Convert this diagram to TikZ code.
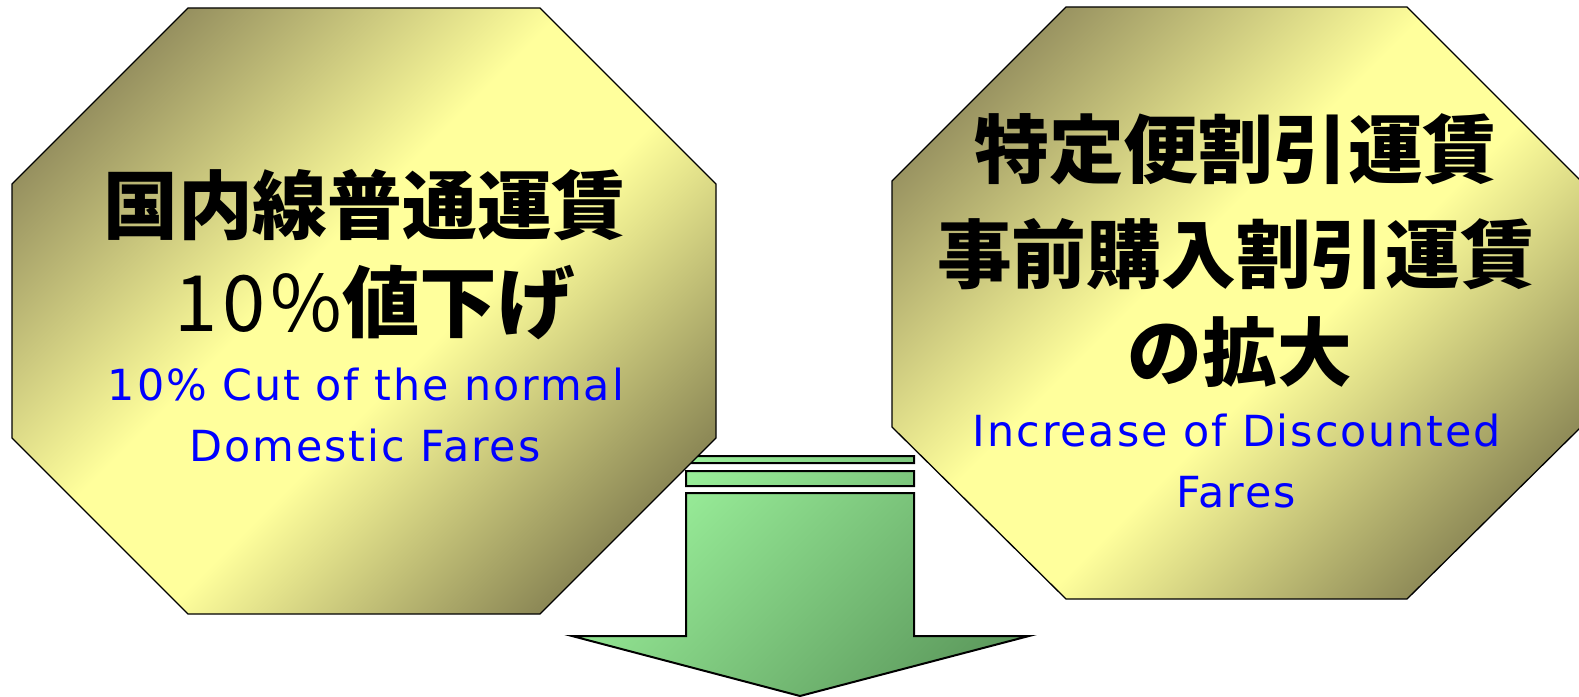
\documentclass[tikz,border=0pt]{standalone}
\usepackage{fontspec}
\newfontfamily\jp{Noto Sans CJK JP}
\newfontfamily\jpsp{Noto Sans CJK JP}[LetterSpace=6]
\newfontfamily\latsp{DejaVu Sans}[LetterSpace=4.5]
\definecolor{olivea}{HTML}{979160}
\definecolor{yel}{HTML}{FFFF9C}
\definecolor{oliveb}{HTML}{8C8856}
\definecolor{lgreen}{HTML}{9CF29C}
\definecolor{dgreen}{HTML}{5A965A}
\definecolor{fareblue}{HTML}{0000FF}
\pgfdeclareverticalshading{goldsh}{100bp}{color(0bp)=(oliveb); color(26.5bp)=(oliveb); color(45bp)=(yel); color(55bp)=(yel); color(73.5bp)=(olivea); color(100bp)=(olivea)}
\pgfdeclareverticalshading{greensh}{100bp}{color(0bp)=(dgreen); color(31bp)=(dgreen); color(69bp)=(lgreen); color(100bp)=(lgreen)}
\begin{document}
\begin{tikzpicture}[x=1bp,y=1bp,
  octline/.style={draw=black, line width=1.3bp, line join=miter},
  arrline/.style={draw=black, line width=2bp, line join=miter},
  goldfill/.style={shading=goldsh, shading angle=45},
  greenfill/.style={shading=greensh, shading angle=45},
  jpline/.style={font=\jp\bfseries\fontsize{75}{80}\selectfont, inner sep=0pt, anchor=center},
  enline/.style={font=\latsp\fontsize{43}{48}\selectfont, text=fareblue, inner sep=0pt, anchor=base},
]
\useasboundingbox[fill=white] (0,0) rectangle (1579,-697);

% green arrow (behind)
\begin{scope}
  \clip (686,-456) rectangle (914,-463)
        (686,-471) rectangle (914,-486)
        (686,-493) -- (914,-493) -- (914,-636) -- (1029,-636) -- (800,-696) -- (572,-636) -- (686,-636) -- cycle;
  \shade[greenfill] (534,-369.5) rectangle (1034,-869.5);
\end{scope}
\draw[arrline] (686,-456) rectangle (914,-463)
        (686,-471) rectangle (914,-486)
        (686,-493) -- (914,-493) -- (914,-636) -- (1029,-636) -- (800,-696) -- (572,-636) -- (686,-636) -- cycle;

% left octagon
\begin{scope}
  \clip (188,-8) -- (540,-8) -- (716,-184) -- (716,-438) -- (540,-614) -- (188,-614) -- (12,-438) -- (12,-184) -- cycle;
  \shade[goldfill] (4,49) rectangle (724,-671);
\end{scope}
\draw[octline] (188,-8) -- (540,-8) -- (716,-184) -- (716,-438) -- (540,-614) -- (188,-614) -- (12,-438) -- (12,-184) -- cycle;

% right octagon
\begin{scope}
  \clip (1066,-7) -- (1407,-7) -- (1581,-181) -- (1581,-427) -- (1407,-599) -- (1066,-599) -- (892,-427) -- (892,-181) -- cycle;
  \shade[goldfill] (876.5,56) rectangle (1596.5,-664);
\end{scope}
\draw[octline] (1066,-7) -- (1407,-7) -- (1581,-181) -- (1581,-427) -- (1407,-599) -- (1066,-599) -- (892,-427) -- (892,-181) -- cycle;

% left texts
\node[jpline] (l1) at (365,-205) {国内線普通運賃};
\node[inner sep=0pt, anchor=center] (l2) at (375,-303)
  {{\jpsp\fontsize{78}{80}\selectfont 10\%}{\jp\bfseries\fontsize{78}{80}\selectfont 値下げ}};
\node[enline] (l3) at (366,-400) {10\% Cut of the normal};
\node[enline] (l4) at (365,-461) {Domestic Fares};

% right texts
\node[jpline] (r1) at (1236,-149) {特定便割引運賃};
\node[jpline] (r2) at (1236,-254) {事前購入割引運賃};
\node[jpline] (r3) at (1240,-352) {の拡大};
\node[enline] (r4) at (1237,-446) {Increase of Discounted};
\node[enline] (r5) at (1236,-507) {Fares};
\end{tikzpicture}
\end{document}
